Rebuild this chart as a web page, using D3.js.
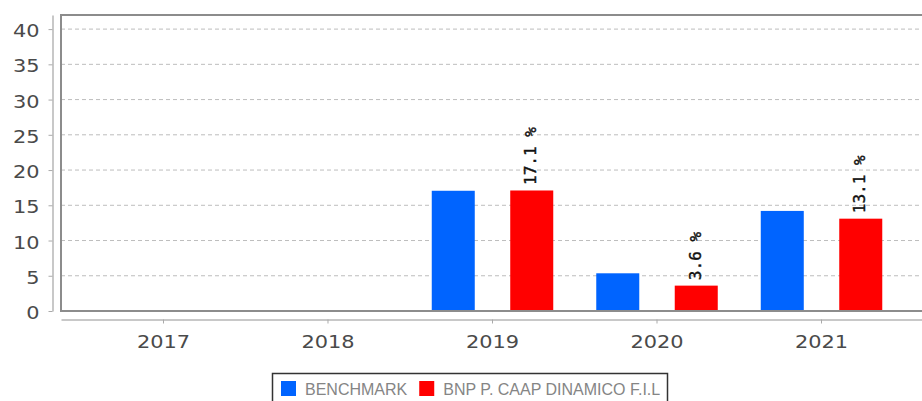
<!DOCTYPE html>
<html>
<head>
<meta charset="utf-8">
<script src="https://cdn.jsdelivr.net/npm/d3@7"></script>
<style>
  body { margin: 0; background: #fff; }
  svg { display: block; }
</style>
</head>
<body>
<svg width="922" height="401"></svg>
<script>
var years = ["2017", "2018", "2019", "2020", "2021"];
var seriesNames = ["BENCHMARK", "BNP P. CAAP DINAMICO F.I.L"];
var benchmark = [null, null, 17.06, 5.35, 14.2];
var fund = [null, null, 17.1, 3.6, 13.1];
var yTicks = [0, 5, 10, 15, 20, 25, 30, 35, 40];
var colors = ["#0064ff", "#ff0000"];

var svg = d3.select("svg");
var plotL = 61, plotR = 924, plotT = 15, plotB = 311;

var x = d3.scaleBand().domain(years).range([plotL, plotR]).paddingInner(0).paddingOuter(0.123);
var xs = d3.scaleBand().domain(seriesNames).range([0, x.bandwidth()]).paddingInner(0.452).paddingOuter(0.274);
var y = d3.scaleLinear().domain([0, 42]).range([plotB, plotT]);

svg.append("rect").attr("width", 922).attr("height", 401).attr("fill", "#fff");

// grid
svg.append("g").selectAll("line")
  .data(yTicks)
  .enter().append("line")
    .attr("x1", plotL).attr("x2", 922)
    .attr("y1", function(d) { return y(d); })
    .attr("y2", function(d) { return y(d); })
    .attr("stroke", "#bdbdbd")
    .attr("stroke-dasharray", "4,3");

// bars
var rows = [];
years.forEach(function(yr, i) {
  rows.push({year: yr, s: 0, v: benchmark[i]});
  rows.push({year: yr, s: 1, v: fund[i]});
});
rows = rows.filter(function(d) { return d.v != null; });

svg.append("g").selectAll("rect")
  .data(rows)
  .enter().append("rect")
    .attr("x", function(d) { return x(d.year) + xs(seriesNames[d.s]); })
    .attr("y", function(d) { return y(d.v); })
    .attr("width", xs.bandwidth())
    .attr("height", function(d) { return y(0) - y(d.v); })
    .attr("fill", function(d) { return colors[d.s]; });

// labels for the fund
svg.append("g").selectAll("text")
  .data(rows.filter(function(d) { return d.s == 1; }))
  .enter().append("text")
    .attr("transform", function(d) {
      var cx = x(d.year) + xs(seriesNames[1]) + xs.bandwidth() / 2;
      return "translate(" + cx + "," + (y(d.v) - 5.5) + ") rotate(-90)";
    })
    .attr("dy", "0.27em")
    .attr("font-family", "DejaVu Sans Mono")
    .attr("font-size", 16)
    .attr("stroke", "#111")
    .attr("stroke-width", 0.4)
    .attr("fill", "#111")
    .text(function(d) { return d.v.toFixed(1) + " %"; });

// plot border
svg.append("rect")
  .attr("x", plotL).attr("y", plotT)
  .attr("width", plotR - plotL).attr("height", plotB - plotT)
  .attr("fill", "none")
  .attr("stroke", "#8c8c8c")
  .attr("stroke-width", 2);

// axes
var yAxis = svg.append("g")
  .attr("transform", "translate(52.5,0)")
  .call(d3.axisLeft(y).tickValues(yTicks).tickSize(4).tickSizeOuter(0).tickPadding(9));
yAxis.select(".domain").attr("stroke", "#c8c8c8").attr("stroke-width", 2);
yAxis.selectAll(".tick line").attr("stroke", "#aaa");
yAxis.selectAll("text").attr("dy", "0.42em");

var xAxis = svg.append("g")
  .attr("transform", "translate(0,319.5)")
  .call(d3.axisBottom(x).tickSize(4).tickSizeOuter(0).tickPadding(12));
xAxis.select(".domain").attr("stroke", "#c8c8c8").attr("stroke-width", 2);
xAxis.selectAll(".tick line").attr("stroke", "#aaa");

svg.selectAll(".tick text")
  .attr("font-family", "DejaVu Sans")
  .attr("font-size", 18)
  .attr("fill", "#4a4a4a")
  .each(function() {
    var len = this.getComputedTextLength();
    d3.select(this).attr("textLength", len * 1.16).attr("lengthAdjust", "spacingAndGlyphs");
  });

// legend
var legend = svg.append("g");
legend.append("rect")
  .attr("x", 272.5).attr("y", 373.5)
  .attr("width", 395).attr("height", 40)
  .attr("fill", "#fff")
  .attr("stroke", "#333")
  .attr("stroke-width", 1.5);
var lx = 281;
seriesNames.forEach(function(name, i) {
  legend.append("rect")
    .attr("x", lx).attr("y", 381)
    .attr("width", 15).attr("height", 15)
    .attr("fill", colors[i]);
  var t = legend.append("text")
    .attr("x", lx + 24).attr("y", 395)
    .attr("font-family", "Liberation Sans, Arial, sans-serif")
    .attr("font-size", 16)
    .attr("fill", "#858585")
    .text(name);
  lx = lx + 24 + t.node().getComputedTextLength() + 12;
});
</script>
</body>
</html>
